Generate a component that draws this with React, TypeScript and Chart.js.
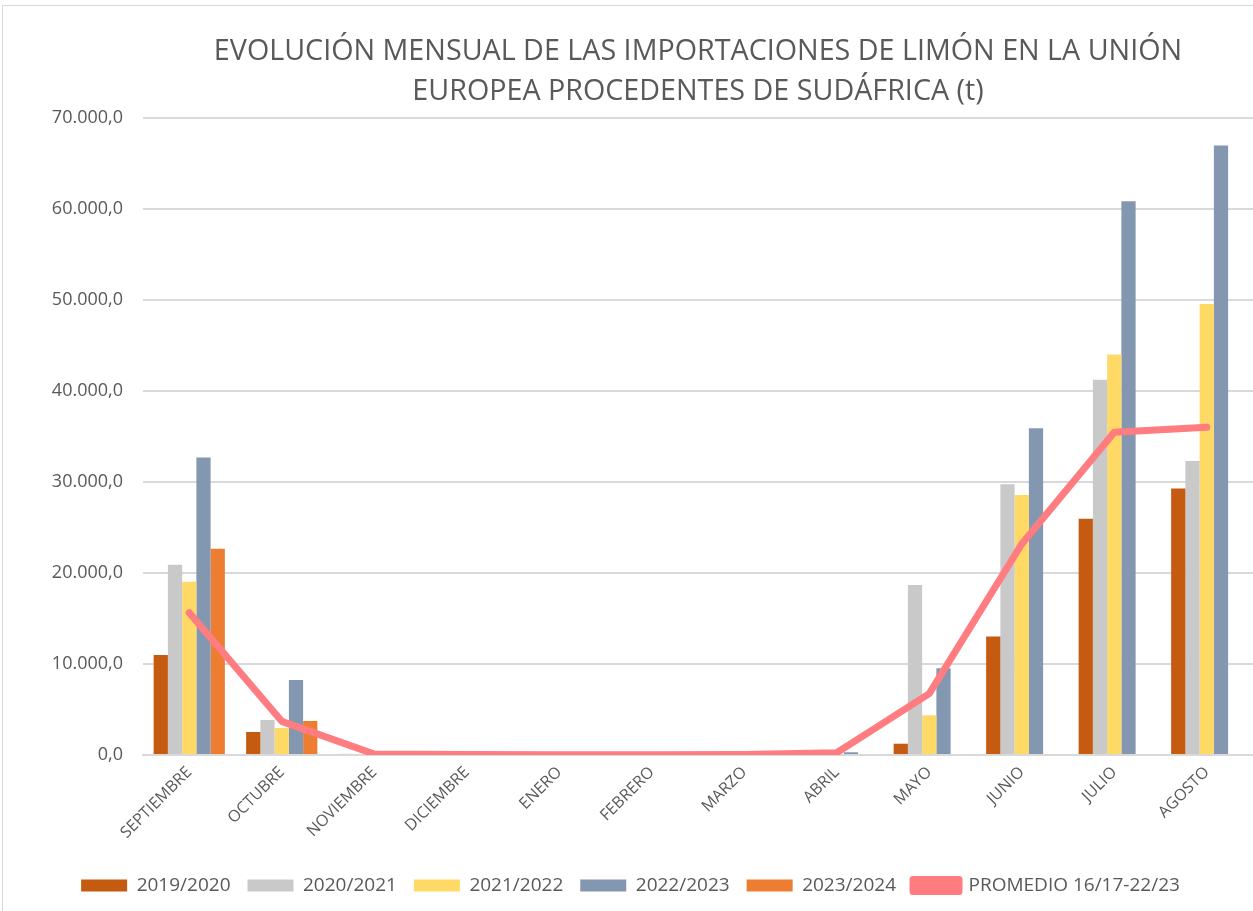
import { useEffect, useRef } from 'react';
import { Chart, registerables } from 'chart.js';

Chart.register(...registerables);

const categories = ['SEPTIEMBRE', 'OCTUBRE', 'NOVIEMBRE', 'DICIEMBRE', 'ENERO', 'FEBRERO', 'MARZO', 'ABRIL', 'MAYO', 'JUNIO', 'JULIO', 'AGOSTO'];

const s2019_2020 = [11000, 2530, 120, 0, 0, 0, 0, 0, 1240, 13020, 25970, 29280];
const s2020_2021 = [20900, 3850, 0, 0, 0, 0, 0, 0, 18680, 29750, 41240, 32320];
const s2021_2022 = [19040, 2970, 0, 0, 0, 0, 0, 0, 4370, 28580, 44020, 49560];
const s2022_2023 = [32690, 8250, 0, 0, 0, 0, 0, 300, 9540, 35910, 60860, 66990];
const s2023_2024 = [22670, 3740, null, null, null, null, null, null, null, null, null, null];
const promedio = [15630, 3700, 100, 60, 40, 20, 60, 250, 6750, 23190, 35470, 36020];

const seriesNames = ['2019/2020', '2020/2021', '2021/2022', '2022/2023', '2023/2024', 'PROMEDIO 16/17-22/23'];
const titleLines = ['EVOLUCIÓN MENSUAL DE LAS IMPORTACIONES DE LIMÓN EN LA UNIÓN', 'EUROPEA PROCEDENTES DE SUDÁFRICA (t)'];

const FONT = '"Open Sans", "DejaVu Sans", sans-serif';
const TEXT = '#595959';

function fmt(v: number): string {
  const n = Math.round(Number(v));
  const s = String(n).replace(/\B(?=(\d{3})+(?!\d))/g, '.');
  return s + ',0';
}

export default function App() {
  const ref = useRef<HTMLCanvasElement>(null);
  useEffect(() => {
    const bar = (label: string, data: (number | null)[], color: string) => ({
      type: 'bar' as const,
      label,
      data,
      backgroundColor: color,
      borderWidth: 0,
      categoryPercentage: 0.77,
      barPercentage: 1.0,
      order: 1,
    });
    const chart = new Chart(ref.current!, {
      type: 'bar',
      data: {
        labels: categories,
        datasets: [
          bar(seriesNames[0], s2019_2020, '#C55A11'),
          bar(seriesNames[1], s2020_2021, '#C9C9C9'),
          bar(seriesNames[2], s2021_2022, '#FFD966'),
          bar(seriesNames[3], s2022_2023, '#8497B0'),
          bar(seriesNames[4], s2023_2024, '#ED7D31'),
          {
            type: 'line' as const,
            label: seriesNames[5],
            data: promedio,
            borderColor: '#FF7C80',
            backgroundColor: '#FF7C80',
            borderWidth: 7,
            pointRadius: 0,
            borderCapStyle: 'round',
            borderJoinStyle: 'round',
            tension: 0,
            order: 0,
          } as any,
        ],
      },
      options: {
        animation: false,
        responsive: false,
        maintainAspectRatio: false,
        layout: { padding: { top: 10, left: 8, right: 0, bottom: 6 } },
        plugins: {
          title: {
            display: true,
            fullSize: false,
            text: titleLines,
            color: TEXT,
            font: { family: FONT, size: 28.7, weight: 'normal', lineHeight: '40px' } as any,
            padding: { top: 22, bottom: 6 },
          },
          legend: {
            position: 'bottom',
            labels: {
              boxWidth: 46,
              boxHeight: 12,
              color: TEXT,
              font: { family: FONT, size: 19 },
              padding: 17,
              sort: (a: any, b: any) => a.datasetIndex - b.datasetIndex,
            },
          },
          tooltip: { enabled: false },
        },
        scales: {
          x: {
            grid: { display: false, drawTicks: false },
            border: { color: '#d9d9d9', width: 2 },
            ticks: {
              color: TEXT,
              font: { family: FONT, size: 16 },
              minRotation: 45,
              maxRotation: 45,
              autoSkip: false,
              padding: 8,
            },
            afterFit: (s: any) => { s.height = 104; },
          },
          y: {
            min: 0,
            max: 70000,
            ticks: {
              stepSize: 10000,
              callback: (v: any) => fmt(v),
              color: TEXT,
              font: { family: FONT, size: 18 },
              padding: 20,
            },
            grid: { color: '#d9d9d9', lineWidth: 2, drawTicks: false },
            border: { display: false },
            afterFit: (s: any) => { s.width = 135; },
          },
        },
      } as any,
    });
    return () => chart.destroy();
  }, []);
  return (
    <div style={{ position: 'fixed', left: 0, top: 0, width: 1253, height: 911, background: '#fff' }}>
      <div style={{ position: 'absolute', left: 2, top: 5, width: 1260, height: 920, border: '1px solid #d9d9d9', boxSizing: 'border-box' }} />
      <canvas ref={ref} width={1253} height={911} style={{ position: 'absolute', left: 0, top: 0 }} />
    </div>
  );
}
